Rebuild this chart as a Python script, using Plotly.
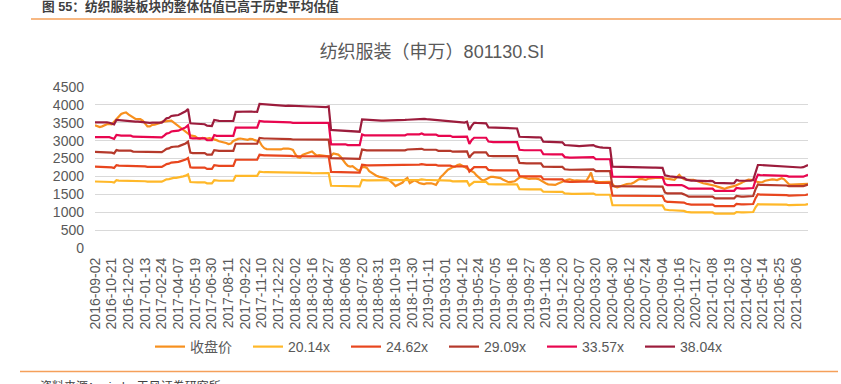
import plotly.graph_objects as go

tick_labels = ["2016-09-02","2016-10-21","2016-12-02","2017-01-13","2017-02-24","2017-04-07",
               "2017-05-19","2017-06-30","2017-08-11","2017-09-22","2017-11-10","2017-12-22",
               "2018-02-02","2018-03-16","2018-04-27","2018-06-08","2018-07-20","2018-08-31",
               "2018-10-19","2018-11-30","2019-01-11","2019-03-01","2019-04-12","2019-05-24",
               "2019-07-05","2019-08-16","2019-09-27","2019-11-08","2019-12-20","2020-02-07",
               "2020-03-20","2020-04-30","2020-06-12","2020-07-24","2020-09-04","2020-10-16",
               "2020-11-27","2021-01-08","2021-02-19","2021-04-02","2021-05-14","2021-06-25",
               "2021-08-06"]

close_price = [
3430,3400,3380,3400,3440,3460,3470,3460,3530,3610,
3680,3745,3775,3790,3735,3685,3645,3605,3600,3600,
3560,3480,3400,3400,3440,3450,3465,3490,3525,3540,
3550,3555,3560,3510,3460,3400,3345,3290,3235,3185,
3150,3135,3120,3070,3050,3080,3065,3060,3070,3055,
3040,3015,2985,2970,2960,2935,2905,2920,2990,3030,
3050,3060,3055,3035,3025,3050,3045,3015,2995,2975,
2860,2790,2765,2760,2760,2750,2745,2740,2755,2780,
2785,2775,2768,2740,2620,2535,2520,2600,2625,2650,
2675,2700,2640,2585,2598,2595,2590,2570,2555,2580,
2640,2625,2610,2550,2450,2370,2300,2275,2290,2230,
2185,2150,2260,2265,2240,2150,2100,2060,2020,1995,
1985,1972,1950,1915,1870,1800,1730,1760,1810,1830,
1910,1960,1815,1850,1895,1860,1815,1800,1785,1805,
1815,1810,1790,1765,1870,1985,2045,2130,2190,2220,
2260,2275,2320,2335,2305,2265,2220,2175,2135,2110,
2030,1970,1910,1885,1915,1965,1990,1990,1985,1970,
1955,1915,1875,1850,1840,1850,1865,1920,1970,1985,
1960,1940,1930,1940,1950,1940,1925,1880,1840,1810,
1780,1770,1765,1762,1795,1825,1860,1890,1905,1920,
1895,1882,1888,1890,1890,1888,1878,1980,2110,1880,
1855,1850,1842,1842,1848,1850,1846,1790,1715,1695,
1720,1760,1775,1790,1796,1800,1830,1870,1920,1930,
1915,1905,1935,1950,1955,1960,1962,1964,1960,1945,
1930,1925,1918,1905,1980,2045,1970,1925,1910,1900,
1905,1908,1880,1855,1830,1810,1800,1790,1780,1760,
1740,1715,1690,1670,1652,1680,1705,1715,1728,1750,
1775,1815,1855,1885,1910,1905,1900,1870,1840,1838,
1845,1880,1900,1910,1920,1910,1900,1925,1950,1920,
1850,1780,1772,1776,1780,1775,1770,1782,1790,1790]

pe_20_14 = [
1858,1858,1858,1858,1858,1858,1858,1845,1830,1894,
1883,1883,1883,1883,1883,1883,1866,1866,1866,1866,1866,1866,
1855,1855,1855,1855,1855,1855,1855,
1885,1919,1927,1954,1959,1961,1968,1985,2002,2022,2057,
1845,1837,1837,1837,1837,1837,1837,1807,1807,1807,1894,
1880,1880,1880,1880,1880,1880,1880,1880,
2017,2017,2017,2017,2017,2017,2017,2017,2017,2017,2131,
2118,2118,2118,2118,2118,2118,2107,2107,2107,2107,2107,2107,2107,
2100,2100,2100,2100,2100,2100,2100,2100,2089,2089,2089,2089,2089,2089,2089,2096,
1739,1739,1739,1739,1739,1739,1739,1725,1725,1725,1725,1725,1725,
1904,1890,1890,1890,1890,1890,1890,1890,1890,1890,1890,1890,1890,1890,1890,1890,1890,1890,1890,
1906,1906,1906,1906,1906,1906,1919,
1901,1901,1901,1901,1901,1901,1881,1881,1881,1881,1881,1881,1863,1863,1863,1863,1863,1863,
1869,1747,1811,1848,1848,1848,1848,1848,1848,1786,
1776,1776,1776,1776,1776,1776,1776,1776,1776,1776,1776,1776,
1646,1639,1639,1639,1639,1639,1639,1639,1639,1639,
1573,1569,1569,1569,1569,1569,1569,1569,1569,1524,
1514,1514,1514,1514,1514,1514,1514,1514,1514,1514,1514,1522,
1488,1488,1488,1488,1488,1488,1488,
1198,1198,1198,1198,1198,1198,1198,1198,1198,1198,1198,
1190,1190,1190,1190,1190,1190,1190,1190,1190,1190,1190,
1075,1055,1055,1055,1055,1055,1055,1055,1038,1011,
994,994,994,994,994,994,994,994,994,994,994,
959,959,959,959,959,959,959,959,959,1006,
995,995,995,995,995,995,1006,1138,1228,
1222,1222,1222,1222,1222,1222,1210,1210,1210,1210,1210,1210,1196,1196,1196,1196,1196,1196,
1196,1212,1228]

pe_24_62 = [
2272,2272,2272,2272,2272,2272,2272,2255,2237,2316,
2302,2302,2302,2302,2302,2302,2281,2281,2281,2281,2281,2281,
2267,2267,2267,2267,2267,2267,2267,
2304,2346,2356,2388,2395,2398,2406,2427,2447,2472,2514,
2255,2246,2246,2246,2246,2246,2246,2209,2209,2209,2316,
2298,2298,2298,2298,2298,2298,2298,2298,
2466,2466,2466,2466,2466,2466,2466,2466,2466,2466,2605,
2590,2590,2590,2590,2590,2590,2575,2575,2575,2575,2575,2575,2575,
2567,2567,2567,2567,2567,2567,2567,2567,2554,2554,2554,2554,2554,2554,2554,2563,
2126,2126,2126,2126,2126,2126,2126,2109,2109,2109,2109,2109,2109,
2328,2311,2311,2311,2311,2311,2311,2311,2311,2311,2311,2311,2311,2311,2311,2311,2311,2311,2311,
2330,2330,2330,2330,2330,2330,2346,
2324,2324,2324,2324,2324,2324,2300,2300,2300,2300,2300,2300,2278,2278,2278,2278,2278,2278,
2285,2136,2213,2259,2259,2259,2259,2259,2259,2183,
2171,2171,2171,2171,2171,2171,2171,2171,2171,2171,2171,2171,
2013,2004,2004,2004,2004,2004,2004,2004,2004,2004,
1923,1918,1918,1918,1918,1918,1918,1918,1918,1863,
1851,1851,1851,1851,1851,1851,1851,1851,1851,1851,1851,1861,
1819,1819,1819,1819,1819,1819,1819,
1465,1465,1465,1465,1465,1465,1465,1465,1465,1465,1465,
1454,1454,1454,1454,1454,1454,1454,1454,1454,1454,1454,
1314,1290,1290,1290,1290,1290,1290,1290,1269,1236,
1215,1215,1215,1215,1215,1215,1215,1215,1215,1215,1215,
1172,1172,1172,1172,1172,1172,1172,1172,1172,1230,
1217,1217,1217,1217,1217,1217,1230,1392,1502,
1494,1494,1494,1494,1494,1494,1479,1479,1479,1479,1479,1479,1462,1462,1462,1462,1462,1462,
1463,1482,1502]

pe_29_09 = [
2684,2684,2684,2684,2684,2684,2684,2665,2644,2736,
2720,2720,2720,2720,2720,2720,2696,2696,2696,2696,2696,2696,
2679,2679,2679,2679,2679,2679,2679,
2722,2772,2784,2822,2829,2833,2842,2868,2891,2921,2971,
2665,2654,2654,2654,2654,2654,2654,2610,2610,2610,2736,
2716,2716,2716,2716,2716,2716,2716,2716,
2914,2914,2914,2914,2914,2914,2914,2914,2914,2914,3078,
3060,3060,3060,3060,3060,3060,3043,3043,3043,3043,3043,3043,3043,
3033,3033,3033,3033,3033,3033,3033,3033,3018,3018,3018,3018,3018,3018,3018,3028,
2512,2512,2512,2512,2512,2512,2512,2491,2491,2491,2491,2491,2491,
2751,2730,2730,2730,2730,2730,2730,2730,2730,2730,2730,2730,2730,2730,2730,2730,2730,2730,2730,
2753,2753,2753,2753,2753,2753,2772,
2746,2746,2746,2746,2746,2746,2717,2717,2717,2717,2717,2717,2691,2691,2691,2691,2691,2691,
2699,2524,2615,2670,2670,2670,2670,2670,2670,2579,
2566,2566,2566,2566,2566,2566,2566,2566,2566,2566,2566,2566,
2378,2368,2368,2368,2368,2368,2368,2368,2368,2368,
2272,2267,2267,2267,2267,2267,2267,2267,2267,2202,
2187,2187,2187,2187,2187,2187,2187,2187,2187,2187,2187,2199,
2149,2149,2149,2149,2149,2149,2149,
1731,1731,1731,1731,1731,1731,1731,1731,1731,1731,1731,
1718,1718,1718,1718,1718,1718,1718,1718,1718,1718,1718,
1552,1524,1524,1524,1524,1524,1524,1524,1499,1461,
1436,1436,1436,1436,1436,1436,1436,1436,1436,1436,1436,
1385,1385,1385,1385,1385,1385,1385,1385,1385,1453,
1438,1438,1438,1438,1438,1438,1453,1644,1774,
1765,1765,1765,1765,1765,1765,1747,1747,1747,1747,1747,1747,1727,1727,1727,1727,1727,1727,
1728,1751,1774]

pe_33_57 = [
3098,3098,3098,3098,3098,3098,3098,3075,3051,3158,
3139,3139,3139,3139,3139,3139,3111,3111,3111,3111,3111,3111,
3091,3091,3091,3091,3091,3091,3091,
3142,3199,3212,3256,3265,3270,3280,3309,3337,3371,3428,
3075,3062,3062,3062,3062,3062,3062,3012,3012,3012,3158,
3134,3134,3134,3134,3134,3134,3134,3134,
3362,3362,3362,3362,3362,3362,3362,3362,3362,3362,3552,
3531,3531,3531,3531,3531,3531,3511,3511,3511,3511,3511,3511,3511,
3500,3500,3500,3500,3500,3500,3500,3500,3482,3482,3482,3482,3482,3482,3482,3495,
2899,2899,2899,2899,2899,2899,2899,2875,2875,2875,2875,2875,2875,
3174,3150,3150,3150,3150,3150,3150,3150,3150,3150,3150,3150,3150,3150,3150,3150,3150,3150,3150,
3177,3177,3177,3177,3177,3177,3199,
3169,3169,3169,3169,3169,3169,3135,3135,3135,3135,3135,3135,3105,3105,3105,3105,3105,3105,
3115,2912,3018,3081,3081,3081,3081,3081,3081,2977,
2961,2961,2961,2961,2961,2961,2961,2961,2961,2961,2961,2961,
2745,2732,2732,2732,2732,2732,2732,2732,2732,2732,
2622,2616,2616,2616,2616,2616,2616,2616,2616,2541,
2524,2524,2524,2524,2524,2524,2524,2524,2524,2524,2524,2537,
2480,2480,2480,2480,2480,2480,2480,
1997,1997,1997,1997,1997,1997,1997,1997,1997,1997,1997,
1983,1983,1983,1983,1983,1983,1983,1983,1983,1983,1983,
1791,1759,1759,1759,1759,1759,1759,1759,1730,1686,
1657,1657,1657,1657,1657,1657,1657,1657,1657,1657,1657,
1598,1598,1598,1598,1598,1598,1598,1598,1598,1677,
1659,1659,1659,1659,1659,1659,1677,1897,2047,
2037,2037,2037,2037,2037,2037,2016,2016,2016,2016,2016,2016,1994,1994,1994,1994,1994,1994,
1994,2021,2047]

pe_38_04 = [
3510,3515,3510,3505,3510,3515,3500,3485,3457,3578,
3570,3565,3560,3555,3550,3545,3540,3535,3530,3520,3515,3505,
3505,3500,3505,3500,3505,3500,3505,
3560,3625,3640,3690,3700,3705,3717,3750,3781,3820,3885,
3485,3480,3475,3470,3470,3465,3460,3420,3410,3410,3578,
3560,3555,3550,3550,3545,3550,3545,3550,
3805,3810,3815,3810,3805,3810,3815,3810,3810,3805,4025,
4020,4010,4000,3995,3990,3990,3985,3980,3980,3975,3975,3980,3975,
3975,3970,3970,3965,3965,3960,3960,3955,3955,3950,3950,3945,3940,3945,3940,3960,
3298,3295,3290,3290,3285,3280,3275,3270,3265,3260,3255,3250,3250,
3597,3590,3585,3580,3575,3570,3565,3565,3560,3560,3560,3565,3565,3570,3570,3575,3575,3580,3580,
3585,3590,3595,3600,3610,3615,3625,
3610,3600,3595,3590,3580,3570,3565,3560,3555,3550,3545,3540,3535,3530,3520,3515,3510,3505,
3530,3300,3420,3500,3495,3490,3490,3485,3485,3373,
3370,3365,3365,3360,3360,3355,3355,3350,3350,3345,3345,3340,
3110,3105,3100,3100,3095,3100,3095,3090,3095,3090,
2971,2970,2965,2970,2965,2960,2965,2960,2955,2879,
2870,2865,2860,2860,2855,2850,2855,2850,2860,2865,2870,2875,
2840,2820,2810,2805,2800,2800,2795,
2273,2270,2268,2265,2265,2262,2260,2260,2258,2255,2258,
2255,2252,2250,2252,2250,2248,2245,2245,2242,2240,2240,
2030,2010,2000,1995,1990,1990,1985,1980,1960,1910,
1890,1885,1885,1880,1880,1875,1880,1875,1870,1875,1870,
1820,1815,1815,1810,1810,1805,1810,1805,1810,1900,
1885,1880,1880,1875,1880,1880,1900,2150,2320,
2320,2315,2310,2305,2300,2300,2295,2290,2290,2285,2280,2275,2270,2265,2260,2255,2250,2250,
2260,2290,2320]

series_names = ["收盘价", "20.14x", "24.62x", "29.09x", "33.57x", "38.04x"]
series_values = [close_price, pe_20_14, pe_24_62, pe_29_09, pe_33_57, pe_38_04]
series_colors = ["#F7901E", "#FFB829", "#E8461E", "#B5392B", "#E8064F", "#9C1C3C"]

FONT = "Liberation Sans, Arial, Noto Sans CJK SC, sans-serif"
GRAY = "#595959"

n = len(close_price)
x = list(range(n))
tickvals = [7 * k for k in range(len(tick_labels))]

fig = go.Figure()
for name, vals, col in zip(series_names, series_values, series_colors):
    fig.add_trace(go.Scatter(x=x[:len(vals)], y=vals, mode="lines", name=name,
                             line=dict(color=col, width=2.2)))

W, H = 841, 384
L, T = 95, 87
pw, ph = 713, 161
R = W - L - pw
B = H - T - ph

def px_x(v):
    return (v - L) / pw

def px_y(v):
    return (H - B - v) / ph

fig.update_layout(
    width=W, height=H,
    margin=dict(l=L, r=R, t=T, b=B, pad=0),
    paper_bgcolor="white", plot_bgcolor="white",
    font=dict(family=FONT, color=GRAY),
    title=dict(text="纺织服装（申万）801130.SI", x=432 / W, xanchor="center",
               y=1 - 51.5 / H, yanchor="middle", xref="container", yref="container",
               font=dict(size=18, color=GRAY, family=FONT)),
    xaxis=dict(range=[0, n - 1], tickmode="array", tickvals=tickvals, ticktext=tick_labels,
               tickangle=-90, tickfont=dict(size=14, color=GRAY), showgrid=False,
               zeroline=False, showline=False, ticks="", ticklabelstandoff=6),
    yaxis=dict(range=[0, 4500], tickmode="array", tickvals=list(range(0, 4501, 500)),
               tickfont=dict(size=14, color=GRAY), showgrid=True, gridcolor="#D9D9D9",
               gridwidth=1.3, zeroline=False, showline=False, ticks="", ticklabelstandoff=10),
    legend=dict(orientation="h", x=px_x(444), xanchor="center", y=px_y(347), yanchor="middle",
                font=dict(size=14, color=GRAY), bgcolor="rgba(0,0,0,0)",
                entrywidth=53, entrywidthmode="pixels"),
    showlegend=True,
)

fig.add_annotation(text="<b>图 55：纺织服装板块的整体估值已高于历史平均估值</b>",
                   xref="paper", yref="paper", x=px_x(40), y=px_y(7),
                   xanchor="left", yanchor="middle", showarrow=False,
                   font=dict(size=12.7, color="#404040", family=FONT))
fig.add_shape(type="line", xref="paper", yref="paper",
              x0=px_x(31), x1=px_x(845), y0=px_y(19), y1=px_y(19),
              line=dict(color="#F5A05A", width=1.5))
fig.add_shape(type="line", xref="paper", yref="paper",
              x0=px_x(20), x1=px_x(838), y0=px_y(371.5), y1=px_y(371.5),
              line=dict(color="#F5A05A", width=1.5))
fig.add_annotation(text="资料来源：wind，天风证券研究所",
                   xref="paper", yref="paper", x=px_x(38), y=px_y(377),
                   xanchor="left", yanchor="top", showarrow=False,
                   font=dict(size=12, color="#404040", family=FONT))

fig.write_html("out.html", config={"displayModeBar": False},
               post_script="document.body.style.margin='0';document.body.style.overflow='hidden';")
